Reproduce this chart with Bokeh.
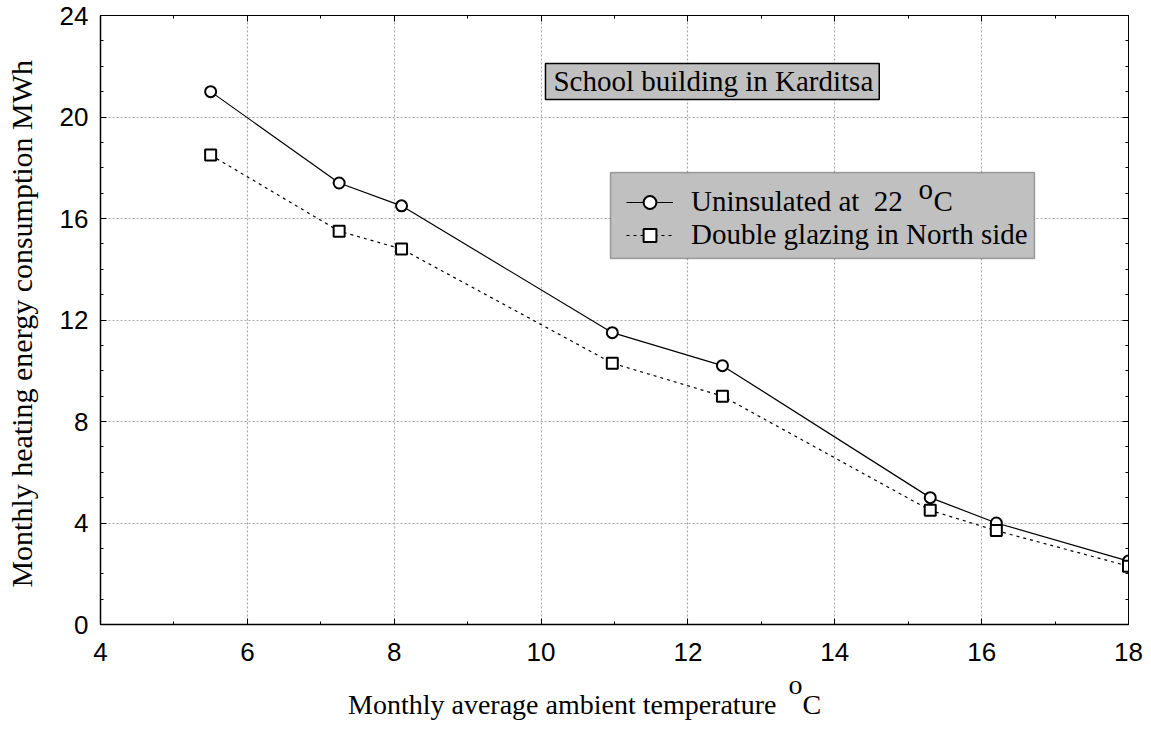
from bokeh.plotting import figure
from bokeh.models import (Legend, LegendItem, Label, LinearAxis, SingleIntervalTicker,
                          CustomJSTickFormatter, Range1d, Div, BoxAnnotation)
from bokeh.layouts import column
from bokeh.embed import file_html
from bokeh.resources import INLINE

# ---- data ----
x_temp = [5.5, 7.25, 8.1, 10.97, 12.47, 15.3, 16.2, 18.0]
uninsulated = [21.0, 17.4, 16.5, 11.5, 10.2, 5.0, 4.0, 2.5]
double_glazing = [18.5, 15.5, 14.8, 10.3, 9.0, 4.5, 3.7, 2.3]
series_names = ["Uninsulated at  22", "Double glazing in North side"]
title_text = "School building in Karditsa"
x_title = "Monthly average ambient temperature"
y_title = "Monthly heating energy consumption  MWh"

SERIF = "Liberation Serif"
SANS = "Liberation Sans"
BOXGRAY = "#c0c0c0"

p = figure(width=1151, height=680, x_range=Range1d(4, 18), y_range=Range1d(0, 24),
           output_backend="svg", toolbar_location=None,
           min_border_left=100, min_border_right=23, min_border_top=15, min_border_bottom=56,
           background_fill_color="white", border_fill_color="white")
p.outline_line_color = "black"
p.outline_line_width = 1

xt = SingleIntervalTicker(interval=2, num_minor_ticks=2)
yt = SingleIntervalTicker(interval=4, num_minor_ticks=4)

for ax, t in ((p.xaxis[0], xt), (p.yaxis[0], yt)):
    ax.ticker = t
    ax.major_tick_in = 6
    ax.major_tick_out = 0
    ax.minor_tick_in = 3
    ax.minor_tick_out = 0
    ax.axis_line_color = "black"
    ax.axis_line_width = 1.5
    ax.major_tick_line_color = "black"
    ax.minor_tick_line_color = "black"
    ax.major_label_text_font = SANS
    ax.major_label_text_font_size = "26px"
    ax.major_label_text_color = "black"
p.yaxis.major_label_standoff = 12
p.xaxis.major_label_standoff = 18

p.yaxis.axis_label = y_title
p.yaxis.axis_label_text_font = SERIF
p.yaxis.axis_label_text_font_size = "30px"
p.yaxis.axis_label_text_font_style = "normal"
p.yaxis.axis_label_text_color = "black"
p.yaxis.axis_label_standoff = 19

blank = CustomJSTickFormatter(code="return ''")
for loc, t in (("above", SingleIntervalTicker(interval=2, num_minor_ticks=2)),
               ("right", SingleIntervalTicker(interval=4, num_minor_ticks=4))):
    a = LinearAxis(ticker=t, formatter=blank, major_label_text_font_size="0px",
                   major_label_standoff=0, major_tick_in=6, major_tick_out=0,
                   minor_tick_in=3, minor_tick_out=0, axis_line_color="black",
                   axis_line_width=1)
    p.add_layout(a, loc)

p.xgrid.ticker = xt
p.ygrid.ticker = yt
for g in (p.xgrid[0], p.ygrid[0]):
    g.grid_line_color = "#a8a8a8"
    g.grid_line_dash = "2 2"
    g.grid_line_width = 1.2

r1 = p.line(x_temp, uninsulated, line_color="black", line_width=1.2)
s1 = p.scatter(x_temp, uninsulated, marker="circle", size=11, fill_color="white",
               line_color="black", line_width=2)
r2 = p.line(x_temp, double_glazing, line_color="black", line_width=1.2, line_dash="3 4")
s2 = p.scatter(x_temp, double_glazing, marker="square", size=11, fill_color="white",
               line_color="black", line_width=2)

# gray framed box behind the legend (legend itself is transparent)
p.add_layout(BoxAnnotation(left=10.945, right=16.72, bottom=14.42, top=17.81,
                           fill_color=BOXGRAY, fill_alpha=1, line_color="black",
                           line_width=1.5, level="annotation"))

legend = Legend(items=[LegendItem(label=series_names[0], renderers=[r1, s1]),
                       LegendItem(label=series_names[1], renderers=[r2, s2])],
                location=(526, 373), orientation="vertical",
                background_fill_alpha=0, border_line_color=None,
                label_text_font=SERIF, label_text_font_size="29px", label_text_color="black",
                glyph_width=47, glyph_height=32, label_height=32, label_standoff=18,
                padding=11, spacing=0, margin=0)
p.add_layout(legend)

# superscript degree sign in legend
p.add_layout(Label(x=15.14, y=17.15, text="o", text_font=SERIF, text_font_size="29px",
                   text_color="black", text_baseline="alphabetic", level="overlay"))
p.add_layout(Label(x=15.344, y=16.67, text="C", text_font=SERIF, text_font_size="29px",
                   text_color="black", text_baseline="alphabetic", level="overlay"))

# title box
p.add_layout(Label(x=10.06, y=21.40, text=title_text, text_font=SERIF, text_font_size="29px",
                   text_color="black", text_baseline="alphabetic",
                   background_fill_color=BOXGRAY, background_fill_alpha=1,
                   border_line_color="black", border_line_width=1.5,
                   padding=dict(left=8, right=6, top=2, bottom=2), level="overlay"))

# x-axis title with superscript, as HTML below the plot
xdiv = Div(text=(x_title + '<span style="margin-left:12px;position:relative;top:-20px">o</span>C'),
           width=1151, height=48,
           styles={"font-family": SERIF, "font-size": "28px", "color": "black",
                   "padding-left": "343px", "padding-top": "4px", "line-height": "normal",
                   "box-sizing": "border-box", "white-space": "nowrap"})

layout = column(p, xdiv, spacing=0)
open("out.html", "w").write(file_html(layout, INLINE))
